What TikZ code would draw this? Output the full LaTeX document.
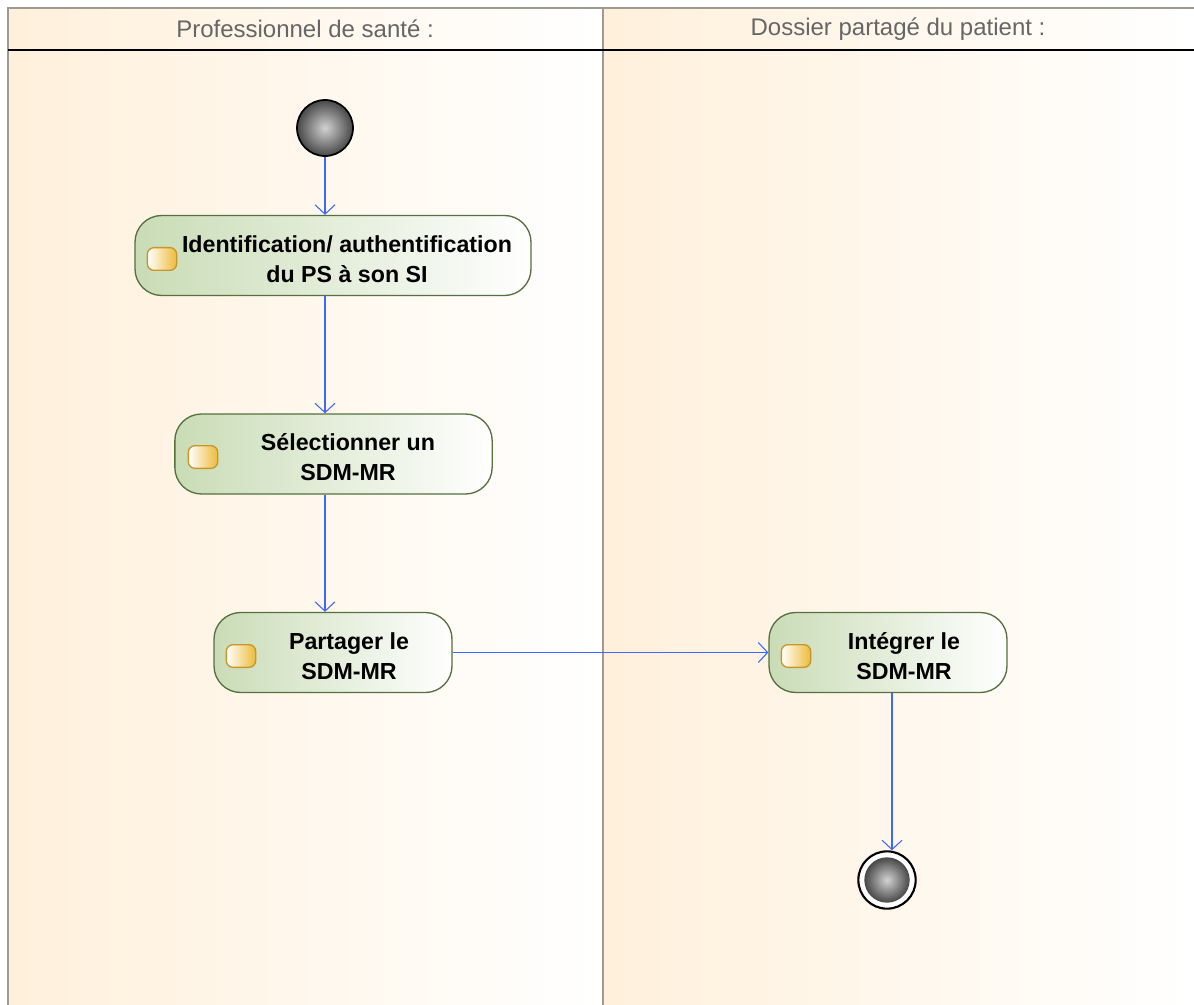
\documentclass[tikz,border=0pt]{standalone}
\usepackage{fontspec}
\setmainfont{Liberation Sans}
\usetikzlibrary{arrows.meta}
\definecolor{lanebg}{HTML}{FFF0DB}
\definecolor{actfill}{HTML}{C9DCB6}
\definecolor{actline}{HTML}{56703F}
\definecolor{flow}{HTML}{3D68FF}
\definecolor{icgold}{HTML}{EDBB3A}
\definecolor{icline}{HTML}{C8962A}
\definecolor{headtxt}{HTML}{666666}
\definecolor{frame}{HTML}{A09A94}
\tikzset{
  lane/.style={left color=lanebg, right color=white, draw=none},
  headtext/.style={text=headtxt, font=\fontsize{18}{20}\selectfont},
  action/.style={draw=actline, line width=1pt, rounded corners=20pt,
    left color=actfill, right color=white, minimum height=60pt},
  acttext/.style={align=center, font=\fontsize{17.4}{22.5}\bfseries\selectfont},
  acticon/.style={rectangle, rounded corners=5pt, draw=icline, line width=1pt,
    left color=white, right color=icgold, minimum width=22pt, minimum height=17pt,
    inner sep=0pt},
  flowarrow/.style={draw=flow, line width=0.8pt,
    -{Straight Barb[length=7pt,width=15pt,line width=0.8pt]}},
  ballnode/.style={circle, inner sep=0pt, inner color=gray!35, outer color=black!72}
}
\begin{document}
\begin{tikzpicture}[x=0.75pt,y=-0.75pt]
    \useasboundingbox (0,0) rectangle (1194,1005);
    \fill[white] (0,0) rectangle (1194,1005);
    \shade[lane] (8,8) rectangle (603,1005);
    \shade[lane] (603,8) rectangle (1194,1005);
    \draw[frame, line width=1.5pt] (8,1005) -- (8,8) -- (1194,8);
    \draw[frame, line width=1.5pt] (603,8) -- (603,1005);
    \draw[black, line width=1.5pt] (8,50) -- (1194,50);
    \node[headtext] (ps) at (305,29) {Professionnel de santé :};
    \node[headtext] (dp) at (898,29) {Dossier partagé du patient :};

    \node[ballnode, minimum size=42pt, draw=black, line width=1.3pt] (start) at (325,128) {};
    \coordinate (spine) at (325,0);

    \node[action, minimum width=297pt] (ident) at (333,255.5) {};
    \node[acttext] (identtxt) at (347,259) {Identification/ authentification\\du PS à son SI};
    \node[acticon] (identic) at (162,259) {};

    \node[action, minimum width=238pt] (select) at (333.5,454) {};
    \node[acttext] (selecttxt) at (348,457) {Sélectionner un\\SDM-MR};
    \node[acticon] (selectic) at (203,457) {};

    \node[action, minimum width=178.5pt] (share) at (333,652.5) {};
    \node[acttext] (sharetxt) at (349,656) {Partager le\\SDM-MR};
    \node[acticon] (shareic) at (241,656) {};

    \node[action, minimum width=178.5pt] (integ) at (888,652.5) {};
    \node[acttext] (integtxt) at (904,656) {Intégrer le\\SDM-MR};
    \node[acticon] (integic) at (796,656) {};

    \node[circle, minimum size=43pt, inner sep=0pt, draw=black, line width=1.6pt,
      fill=white] (stop) at (887,880) {};
    \node[ballnode, minimum size=34pt] (stopin) at (887,880) {};
    \coordinate (sink) at (892,0);

    \draw[flowarrow] (start.south -| spine) -- (ident.north -| spine);
    \draw[flowarrow] (ident.south -| spine) -- (select.north -| spine);
    \draw[flowarrow] (select.south -| spine) -- (share.north -| spine);
    \draw[flowarrow] (share.east) -- (integ.west);
    \draw[flowarrow] (integ.south -| sink) -- (stop.north -| sink);
\end{tikzpicture}
\end{document}
